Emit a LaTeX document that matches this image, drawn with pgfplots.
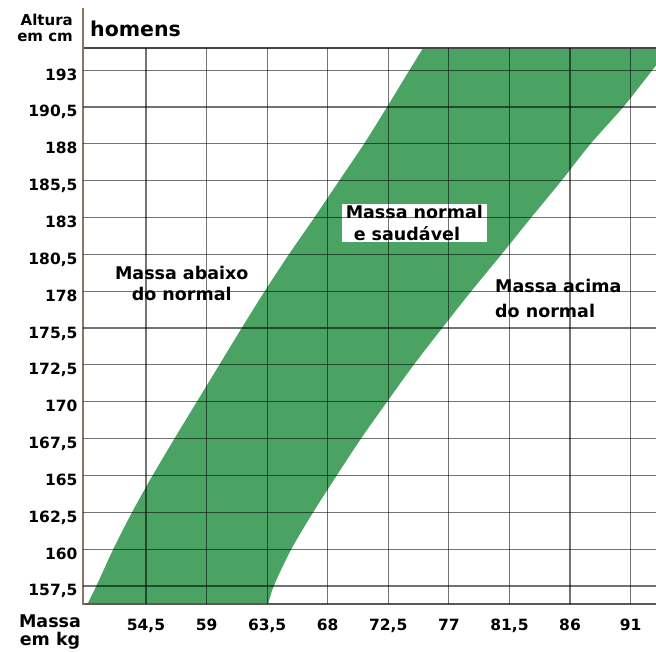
\documentclass[border=0pt]{standalone}
\usepackage{fontspec}
\setmainfont{DejaVu Sans}
\usepackage{pgfplots}
\pgfplotsset{compat=1.18}
\usepgfplotslibrary{fillbetween}
\definecolor{band}{RGB}{74,163,98}
\begin{document}
\begin{tikzpicture}
\begin{axis}[
  at={(83pt,47pt)}, anchor=south west,
  scale only axis, width=573pt, height=556pt,
  xmin=-1.04, xmax=8.42, ymin=-0.49, ymax=14.6,
  axis on top,
  axis line style={draw=none},
  xtick={0,...,8},
  xticklabels={{54,5},59,{63,5},68,{72,5},77,{81,5},86,91},
  ytick={0,...,14},
  yticklabels={{157,5},160,{162,5},165,{167,5},170,{172,5},{175,5},178,{180,5},183,{185,5},188,{190,5},193},
  major tick length=0pt,
  grid=major,
  grid style={black, opacity=0.55, line width=1.2pt},
  ticklabel style={font=\fontsize{15.5}{18}\selectfont\bfseries},
  xticklabel style={anchor=base, yshift=-26pt},
  yticklabel style={anchor=base east, yshift=-10pt, xshift=-2pt},
]
\addplot[name path=L, draw=none, smooth] coordinates {
  (-1.00,-0.6) (-0.82,0) (-0.54,1) (-0.23,2) (0.11,3) (0.47,4) (0.84,5)
  (1.21,6) (1.58,7) (1.96,8) (2.36,9) (2.78,10) (3.19,11) (3.60,12)
  (3.98,13) (4.35,14) (4.65,14.8)};
\addplot[name path=R, draw=none, smooth] coordinates {
  (2.00,-0.6) (2.11,0) (2.40,1) (2.76,2) (3.15,3) (3.55,4) (3.98,5)
  (4.42,6) (4.89,7) (5.37,8) (5.87,9) (6.36,10) (6.86,11) (7.34,12)
  (7.88,13) (8.36,14) (8.74,14.8)};
\addplot[fill=band, draw=none] fill between[of=L and R];
\coordinate (l1) at (axis cs:0.59,8.22);
\coordinate (l2) at (axis cs:4.43,9.85);
\coordinate (l3) at (axis cs:5.63,7.79);
\end{axis}
% axis frame lines
\draw[line width=2pt, color={rgb,255:red,95;green,88;blue,80}] (83pt,47pt) -- (656pt,47pt);
\draw[line width=1.6pt, color={rgb,255:red,70;green,70;blue,70}] (83pt,603pt) -- (656pt,603pt);
\draw[line width=1.8pt, color={rgb,255:red,140;green,118;blue,95}] (83pt,46pt) -- (83pt,643pt);
% in-plot labels
\node[fill=white, align=center, inner xsep=7pt, inner ysep=2pt, font=\fontsize{17.5}{21}\selectfont\bfseries] at (l1) {Massa abaixo\\do normal};
\node[fill=white, align=left, inner xsep=4pt, inner ysep=1pt, font=\fontsize{17.5}{22}\selectfont\bfseries] at (l2) {Massa normal\\\hspace*{8pt}e saudável};
\node[fill=white, align=left, anchor=west, inner xsep=8pt, inner ysep=2pt, font=\fontsize{17.5}{25}\selectfont\bfseries] at (l3) {Massa acima\\do normal};
% outer texts
\node[anchor=north east, align=right, inner sep=0pt, font=\fontsize{15}{15.5}\selectfont\bfseries] at (73pt,637pt) {Altura\\em cm};
\node[anchor=base west, inner sep=0pt, font=\fontsize{20.5}{24}\selectfont\bfseries] at (90pt,614pt) {homens};
\node[anchor=north, align=center, inner sep=0pt, font=\fontsize{17.5}{17.5}\selectfont\bfseries] at (50pt,36pt) {Massa\\em kg};
\pgfresetboundingbox
\useasboundingbox (0,0) rectangle (656pt,651pt);
\end{tikzpicture}
\end{document}
